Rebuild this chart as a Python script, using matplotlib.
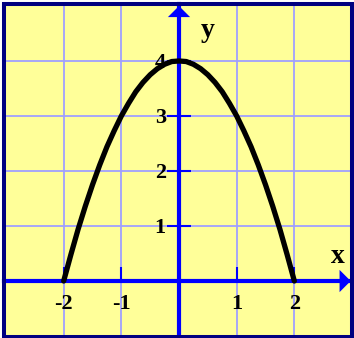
import matplotlib
matplotlib.use('Agg')
import matplotlib.pyplot as plt
from matplotlib.patches import Rectangle
from matplotlib.transforms import ScaledTranslation

# values
curve_x = [-2.0, -1.875, -1.75, -1.625, -1.5, -1.375, -1.25, -1.125, -1.0,
           -0.875, -0.75, -0.625, -0.5, -0.375, -0.25, -0.125, 0.0,
           0.125, 0.25, 0.375, 0.5, 0.625, 0.75, 0.875, 1.0,
           1.125, 1.25, 1.375, 1.5, 1.625, 1.75, 1.875, 2.0]
curve_y = [0.0, 0.48, 0.94, 1.36, 1.75, 2.11, 2.44, 2.73, 3.0,
           3.23, 3.44, 3.61, 3.75, 3.86, 3.94, 3.99, 4.0,
           3.99, 3.94, 3.86, 3.75, 3.61, 3.44, 3.23, 3.0,
           2.73, 2.44, 2.11, 1.75, 1.36, 0.94, 0.48, 0.0]
xtick_pos = [-2, -1, 1, 2]
xtick_lbl = ['-2', '-1', '1', '2']
ytick_pos = [1, 2, 3, 4]
ytick_lbl = ['1', '2', '3', '4']

W, H = 354, 338
plt.rcParams['axes.unicode_minus'] = False
fig = plt.figure(figsize=(W / 100, H / 100), dpi=100)
ax = fig.add_axes([4 / W, 1.5 / H, 348 / W, 332.5 / H])
ax.set_xlim(-3.035, 3.0)
ax.set_ylim(-1.009, 5.036)
ax.set_facecolor('#ffff99')

# axes through the origin
for s in ['top', 'right']:
    ax.spines[s].set_visible(False)
ax.spines['left'].set_position('zero')
ax.spines['bottom'].set_position('zero')
for s in ['left', 'bottom']:
    ax.spines[s].set_color('#0000ff')
    ax.spines[s].set_linewidth(3)

ax.set_xticks(xtick_pos)
ax.set_xticklabels(xtick_lbl)
ax.set_yticks(ytick_pos)
ax.set_yticklabels(ytick_lbl)
fp = matplotlib.font_manager.FontProperties(family='Liberation Serif',
                                            weight='bold', size=16)
for t in ax.get_xticklabels() + ax.get_yticklabels():
    t.set_fontproperties(fp)
down = ScaledTranslation(0, -3 / 72, fig.dpi_scale_trans)
for t in ax.get_yticklabels():
    t.set_transform(t.get_transform() + down)
ax.tick_params(axis='x', direction='in', length=10, width=1.5,
               color='#0000ff', pad=9)
ax.tick_params(axis='y', direction='inout', length=17, width=1.5,
               color='#0000ff', pad=1)
ax.grid(True, color='#a0a0ff', linewidth=1.3)
ax.set_axisbelow(True)

# arrow heads
head = '-|>,head_length=0.4,head_width=0.4'
ax.annotate('', xy=(2.977, 0), xytext=(2.5, 0),
            arrowprops=dict(arrowstyle=head, mutation_scale=20, color='#0000ff',
                            lw=0, shrinkA=0, shrinkB=0))
ax.annotate('', xy=(0, 5.0), xytext=(0, 4.5),
            arrowprops=dict(arrowstyle=head, mutation_scale=20, color='#0000ff',
                            lw=0, shrinkA=0, shrinkB=0))

lbl = matplotlib.font_manager.FontProperties(family='Liberation Serif',
                                             weight='bold', size=20)
ax.text(0.5, 4.55, 'y', fontproperties=lbl, ha='center', va='center')
ax.text(2.75, 0.45, 'x', fontproperties=lbl, ha='center', va='center')

ax.plot(curve_x, curve_y, color='black', linewidth=3.8,
        solid_capstyle='round', solid_joinstyle='round', zorder=4)

# navy frame
ax.add_patch(Rectangle((0, 0), 1, 1, transform=ax.transAxes, fill=False,
                       edgecolor='#000080', linewidth=2.9, clip_on=False, zorder=6))

fig.savefig('out.png', dpi=100)
